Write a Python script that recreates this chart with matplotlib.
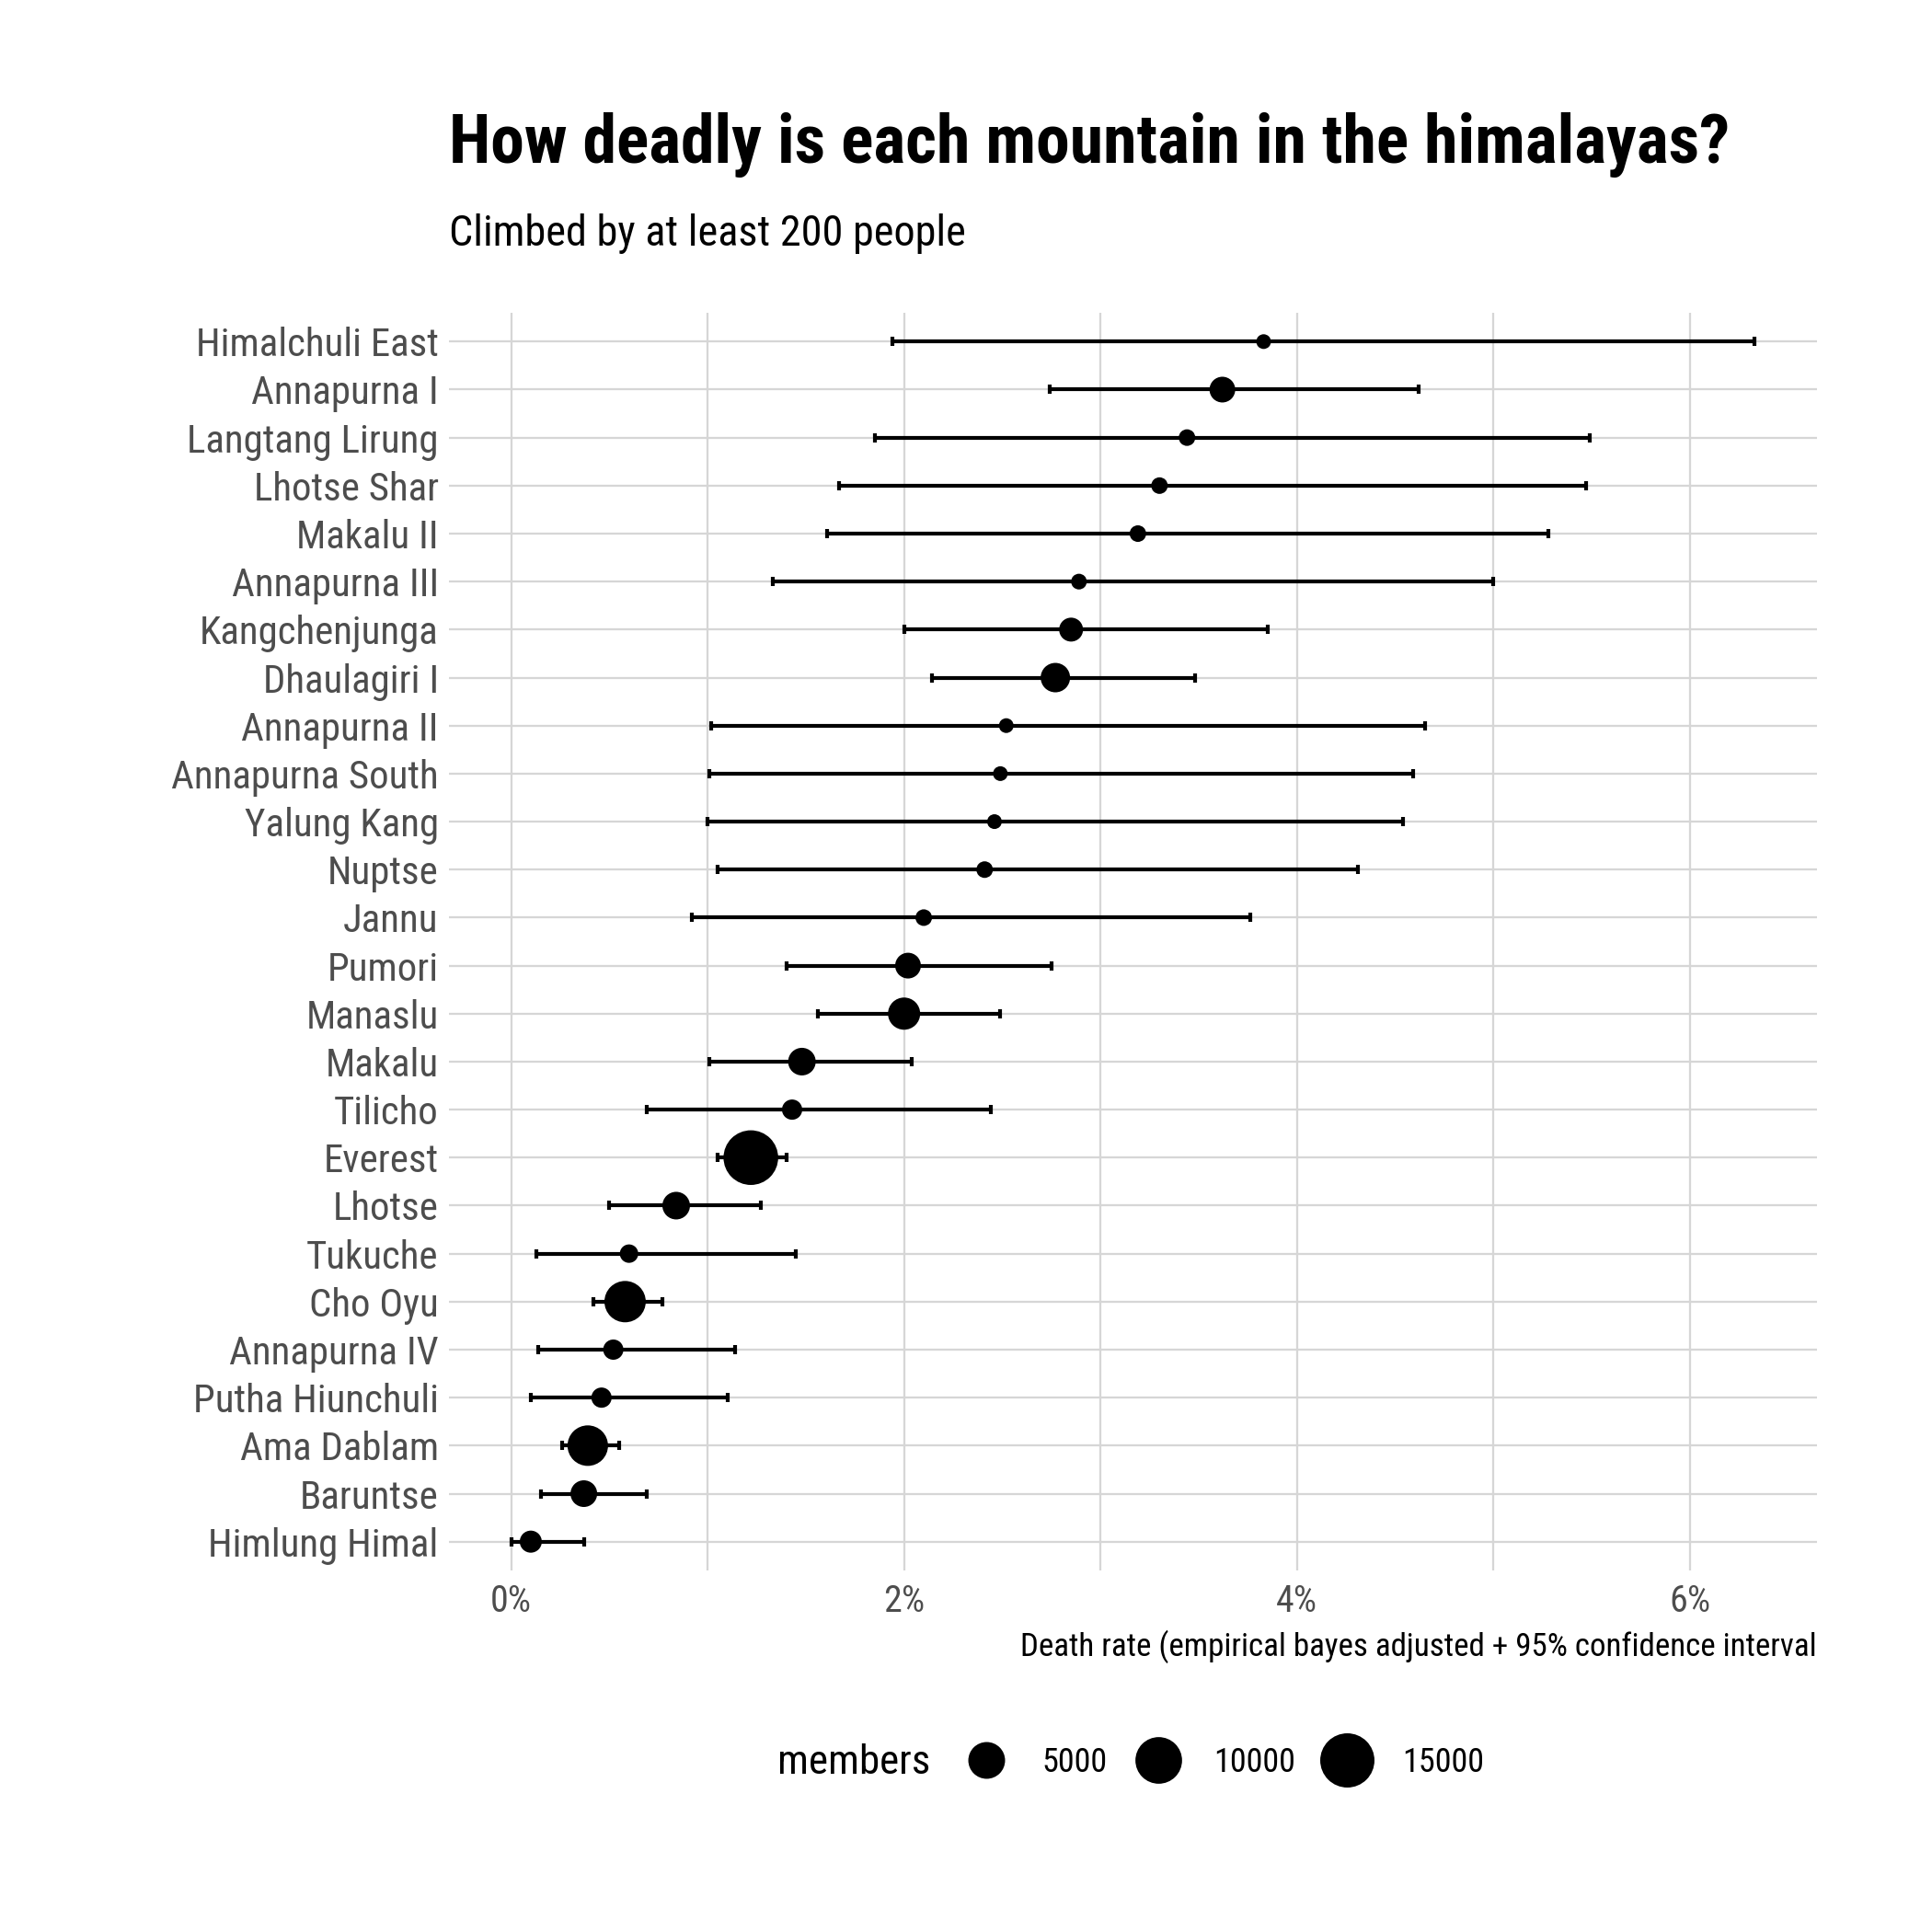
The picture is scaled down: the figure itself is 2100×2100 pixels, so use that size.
import numpy as np
import matplotlib
matplotlib.use("Agg")
import matplotlib.pyplot as plt
from matplotlib.lines import Line2D
from matplotlib.ticker import FixedLocator, FuncFormatter

plt.rcParams['font.family'] = ['Roboto Condensed', 'Archivo Narrow', 'Liberation Sans', 'DejaVu Sans']

# peaks, top to bottom as in the chart
mountains = ["Himalchuli East", "Annapurna I", "Langtang Lirung", "Lhotse Shar",
             "Makalu II", "Annapurna III", "Kangchenjunga", "Dhaulagiri I",
             "Annapurna II", "Annapurna South", "Yalung Kang", "Nuptse", "Jannu",
             "Pumori", "Manaslu", "Makalu", "Tilicho", "Everest", "Lhotse",
             "Tukuche", "Cho Oyu", "Annapurna IV", "Putha Hiunchuli",
             "Ama Dablam", "Baruntse", "Himlung Himal"]

# empirical bayes death rate, in percent
death_rate = [3.83, 3.62, 3.44, 3.30, 3.19, 2.89, 2.85, 2.77, 2.52, 2.49, 2.46,
              2.41, 2.10, 2.02, 2.00, 1.48, 1.43, 1.22, 0.84, 0.60, 0.58, 0.52,
              0.46, 0.39, 0.37, 0.10]
ci_low = [1.94, 2.74, 1.85, 1.67, 1.61, 1.33, 2.00, 2.14, 1.02, 1.01, 1.00,
          1.05, 0.92, 1.40, 1.56, 1.01, 0.69, 1.05, 0.50, 0.13, 0.42, 0.14,
          0.10, 0.26, 0.15, 0.00]
ci_high = [6.33, 4.62, 5.49, 5.47, 5.28, 5.00, 3.85, 3.48, 4.65, 4.59, 4.54,
           4.31, 3.76, 2.75, 2.49, 2.04, 2.44, 1.40, 1.27, 1.45, 0.77, 1.14,
           1.10, 0.55, 0.69, 0.37]
members = [30, 1450, 120, 120, 120, 70, 1070, 2400, 30, 30, 30, 120, 120, 1450,
           3270, 1900, 475, 15300, 1900, 270, 7100, 475, 475, 6700, 1670, 740]

legend_breaks = [5000, 10000, 15000]
x_major = [0, 2, 4, 6]
x_minor = [1, 3, 5]

DPI = 300
W = H = 2100


def diameter_pt(m):
    # sqrt scale for point size, px at 300 dpi -> points
    d_px = 14.0 + 0.367 * np.sqrt(np.asarray(m, dtype=float))
    return d_px * 72 / DPI


n = len(mountains)
y = np.arange(n)[::-1]
rate = np.array(death_rate)
lo = np.array(ci_low)
hi = np.array(ci_high)

fig = plt.figure(figsize=(W / DPI, H / DPI), dpi=DPI)
ax = fig.add_axes([488 / W, 1 - 1707 / H, (1975 - 488) / W, (1707 - 340) / H])

ax.errorbar(rate, y, xerr=[rate - lo, hi - rate], fmt='none', ecolor='black',
            elinewidth=1.0, capsize=1.3, capthick=1.0, zorder=3)
ax.scatter(rate, y, s=diameter_pt(members) ** 2, color='black', linewidths=0, zorder=4)

span = hi.max() - lo.min()
ax.set_xlim(lo.min() - 0.05 * span, hi.max() + 0.05 * span)
ax.set_ylim(-0.6, n - 1 + 0.6)

ax.xaxis.set_major_locator(FixedLocator(x_major))
ax.xaxis.set_minor_locator(FixedLocator(x_minor))
ax.xaxis.set_major_formatter(FuncFormatter(lambda v, p: f"{v:g}%"))
ax.set_yticks(y)
ax.set_yticklabels(mountains)

grid_col = '#D6D6D6'
ax.grid(True, which='major', color=grid_col, linewidth=0.55)
ax.grid(True, which='minor', axis='x', color=grid_col, linewidth=0.55)
ax.set_axisbelow(True)
for sp in ax.spines.values():
    sp.set_visible(False)
ax.tick_params(axis='both', which='both', length=0, labelcolor='#4D4D4D')
ax.tick_params(axis='x', pad=3.4, labelsize=9.6)
ax.tick_params(axis='y', pad=2.7, labelsize=10.3)

fig.text(488 / W, 1 - 177 / H, "How deadly is each mountain in the himalayas?",
         fontsize=17.7, fontweight='bold', ha='left', va='baseline')
fig.text(488 / W, 1 - 267 / H, "Climbed by at least 200 people",
         fontsize=11.1, ha='left', va='baseline')
fig.text(1975 / W, 1 - 1800 / H,
         "Death rate (empirical bayes adjusted + 95% confidence interval",
         fontsize=8.4, ha='right', va='baseline')

# size legend along the bottom
handles = [Line2D([], [], marker='o', linestyle='', color='black',
                  markersize=diameter_pt(b), markeredgewidth=0) for b in legend_breaks]
leg = fig.legend(handles, [str(b) for b in legend_breaks], ncol=3, frameon=False,
                 fontsize=8.7, loc='center left',
                 bbox_to_anchor=(1036 / W, 1 - 1916 / H),
                 borderpad=0, borderaxespad=0, handlelength=2.0,
                 handletextpad=0.65, columnspacing=0.55)
fig.text(1011 / W, 1 - 1916 / H, "members", fontsize=10.8, ha='right', va='center')

fig.savefig("out.png", dpi=DPI, facecolor='white')
